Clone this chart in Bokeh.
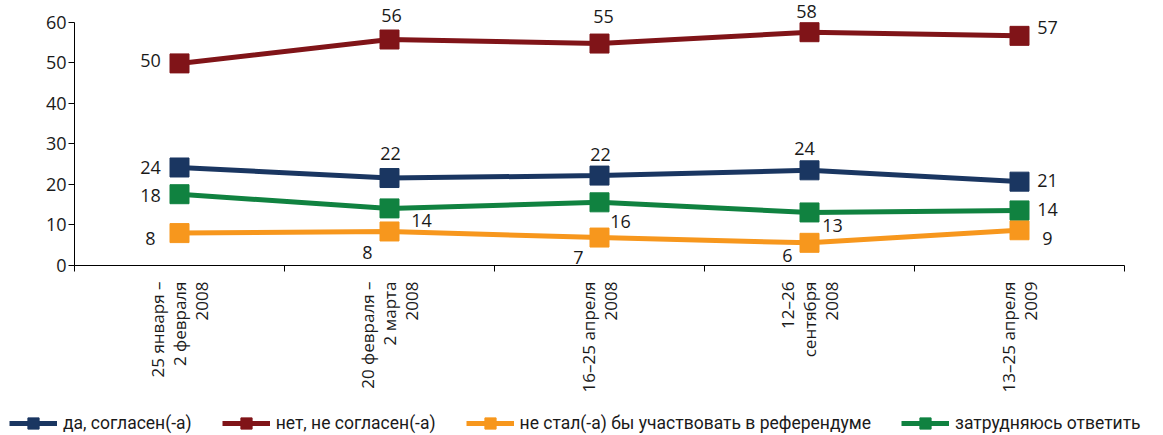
import math
from bokeh.plotting import figure
from bokeh.models import (ColumnDataSource, FixedTicker, LabelSet, Legend, LegendItem)
from bokeh.core.properties import value
from bokeh.embed import file_html
from bokeh.resources import INLINE

# ---- data ----
periods = ["25 января –\n2 февраля\n2008",
           "20 февраля –\n2 марта\n2008",
           "16–25 апреля\n2008",
           "12–26\nсентября\n2008",
           "13–25 апреля\n2009"]
series_names = ["да, согласен(-а)",
                "нет, не согласен(-а)",
                "не стал(-а) бы участвовать в референдуме",
                "затрудняюсь ответить"]
yes_vals = [24.2, 21.6, 22.2, 23.5, 20.7]
no_vals = [49.9, 55.8, 54.8, 57.6, 56.7]
abstain_vals = [8.0, 8.4, 6.9, 5.6, 8.7]
unsure_vals = [17.6, 14.1, 15.6, 13.1, 13.6]
y_ticks = [0, 10, 20, 30, 40, 50, 60]

# ---- styling / layout (not data) ----
colors = ["#1a3661", "#801418", "#f7971d", "#108240"]
# label offsets in screen px (dx right, dy up) for each point
offsets = [
    [(-29, 0), (1, 25), (1, 21), (-5, 22), (28, 1)],
    [(-29, 3), (2, 24), (4, 27), (-3, 21), (28, 8)],
    [(-29, -5), (-22, -21), (-21, -20), (-22, -13), (28, -8)],
    [(-29, -1), (32, -12), (21, -19), (23, -13), (28, 1)],
]
FONT = "Open Sans"
TXT = "#1a1a1a"

xs = [i + 0.5 for i in range(len(periods))]
all_vals = [yes_vals, no_vals, abstain_vals, unsure_vals]

p = figure(width=1163, height=400, x_range=(0, 5), y_range=(0, 65.43),
           output_backend="svg", toolbar_location=None,
           min_border_left=74, min_border_right=39, min_border_top=0,
           min_border_bottom=135)
p.outline_line_color = None
p.grid.visible = False
p.background_fill_color = "white"

# x axis
xa = p.xaxis[0]
xa.ticker = FixedTicker(ticks=xs, minor_ticks=[0, 1, 2, 3, 4, 5])
xa.major_label_overrides = {x: lab for x, lab in zip(xs, periods)}
xa.major_label_orientation = math.pi / 2
xa.major_tick_out = 0
xa.major_tick_in = 0
xa.minor_tick_out = 6
xa.minor_tick_in = 0
xa.minor_tick_line_color = "black"
xa.axis_line_color = "black"
xa.bounds = (0, 5)
xa.major_label_text_font = FONT
xa.major_label_text_font_size = "17px"
xa.major_label_text_line_height = 0.95
xa.major_label_text_color = TXT
xa.major_label_standoff = 10

# y axis
ya = p.yaxis[0]
ya.ticker = FixedTicker(ticks=y_ticks)
ya.bounds = (0, 60)
ya.major_tick_out = 6
ya.major_tick_in = 0
ya.minor_tick_line_color = None
ya.axis_line_color = "black"
ya.major_tick_line_color = "black"
ya.major_label_text_font = FONT
ya.major_label_text_font_size = "18px"
ya.major_label_text_color = TXT
ya.major_label_standoff = 2

# legend figure (separate root so its frame spans the full width)
pl = figure(width=1163, height=35, x_range=(0, 1), y_range=(0, 1),
            output_backend="svg", toolbar_location=None,
            min_border_left=0, min_border_right=0, min_border_top=0,
            min_border_bottom=0)
pl.axis.visible = False
pl.grid.visible = False
pl.outline_line_color = None

items = []
for name, vals, col, offs in zip(series_names, all_vals, colors, offsets):
    src = ColumnDataSource(dict(
        x=xs, y=vals,
        lab=[str(int(v + 0.5)) for v in vals],
        xo=[o[0] for o in offs], yo=[o[1] for o in offs]))
    p.line("x", "y", source=src, line_color=col, line_width=5)
    p.scatter("x", "y", source=src, marker="square", size=19,
              fill_color=col, line_color=col)
    ls = LabelSet(x="x", y="y", text="lab", source=src, x_offset="xo",
                  y_offset="yo", text_align="center", text_baseline="middle",
                  text_font=value(FONT), text_font_size="18px", text_color=TXT)
    p.add_layout(ls)
    # legend swatches: same series, lying outside the legend strip's ranges
    ln = pl.line("x", "y", source=src, line_color=col, line_width=5)
    sc = pl.scatter("x", "y", source=src, marker="square", size=19,
                    fill_color=col, line_color=col)
    items.append(LegendItem(label=name, renderers=[ln, sc]))

legend = Legend(items=items, orientation="horizontal", location=(9, -2),
                glyph_width=48, glyph_height=28, label_standoff=6, spacing=30,
                padding=0, margin=0, border_line_color=None,
                background_fill_alpha=0,
                label_text_font="Roboto", label_text_font_size="17.5px",
                label_text_color=TXT)
pl.add_layout(legend, "center")

open("out.html", "w").write(file_html([p, pl], INLINE))
